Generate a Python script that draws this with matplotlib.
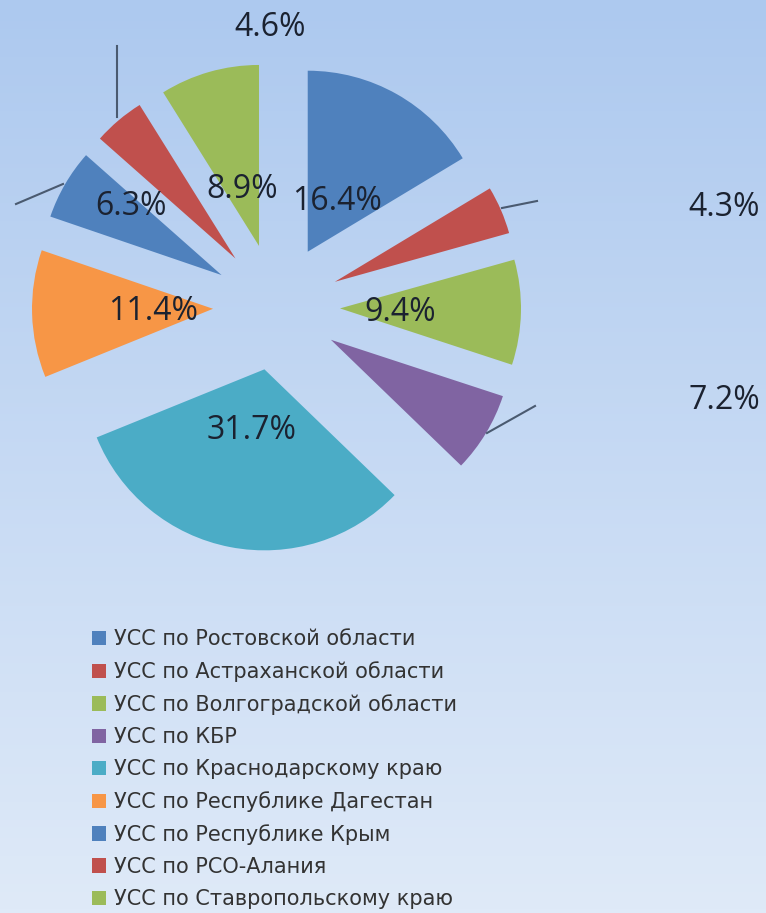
import numpy as np
import matplotlib.pyplot as plt
from matplotlib.colors import LinearSegmentedColormap

W, H = 766, 913

regions = [
    "УСС по Ростовской области",
    "УСС по Астраханской области",
    "УСС по Волгоградской области",
    "УСС по КБР",
    "УСС по Краснодарскому краю",
    "УСС по Республике Дагестан",
    "УСС по Республике Крым",
    "УСС по РСО-Алания",
    "УСС по Ставропольскому краю",
]
shares = [16.4, 4.3, 9.4, 7.2, 31.7, 11.4, 6.3, 4.6, 8.9]
labels = ["16.4%", "4.3%", "9.4%", "7.2%", "31.7%", "11.4%", "6.3%", "4.6%", "8.9%"]
colors = ["#4F81BD", "#C0504D", "#9BBB59", "#8064A2", "#4BACC6",
          "#F79646", "#4F81BD", "#C0504D", "#9BBB59"]

# label placement in image pixels (x, y from top)
label_xy = [(337, 201), (724, 207), (400, 312), (724, 400), (252, 430),
            (153, 311), (131, 206), (270, 27), (242, 189)]
leaders = {
    1: [(502, 208), (537, 201)],
    3: [(487, 433), (535, 406)],
    6: [(63, 184), (16, 204)],
    7: [(117, 117), (117, 46)],
}

fig = plt.figure(figsize=(W / 100, H / 100), dpi=100)
ax = fig.add_axes([0, 0, 1, 1])

# background gradient
cmap = LinearSegmentedColormap.from_list("bg", ["#adc9ef", "#dfeaf8"])
grad = np.linspace(0, 1, 256).reshape(-1, 1)
ax.imshow(grad, cmap=cmap, extent=[0, W, 0, H], origin="upper", aspect="auto", zorder=0)

cx, cy, r = 276.5, H - 307, 181
# explode is in data units (pixels here)
wedges, _ = ax.pie(shares, colors=colors, startangle=90, counterclock=False,
                   explode=[63.5] * len(shares), center=(cx, cy), radius=r,
                   wedgeprops=dict(linewidth=0), frame=True)
for w in wedges:
    w.set_zorder(2)

for (x, y), lab in zip(label_xy, labels):
    ax.text(x, H - y, lab, ha="center", va="center", fontsize=23,
            family=["Open Sans", "DejaVu Sans"], color="#1b2230", zorder=4)

for pts in leaders.values():
    xs = [p[0] for p in pts]
    ys = [H - p[1] for p in pts]
    ax.plot(xs, ys, color="#4a5a70", lw=1.5, zorder=3)

ax.legend(wedges, regions, loc="upper left", bbox_to_anchor=(92 / W, 1 - 629 / H),
          frameon=False, handlelength=0.67, handleheight=0.67,
          handletextpad=0.38, labelspacing=0.58, borderaxespad=0, borderpad=0,
          labelcolor="#333333", prop={"family": "DejaVu Sans", "size": 15})

ax.set_xlim(0, W)
ax.set_ylim(0, H)
ax.set_aspect("auto")
ax.axis("off")

fig.savefig("out.png", dpi=100)
